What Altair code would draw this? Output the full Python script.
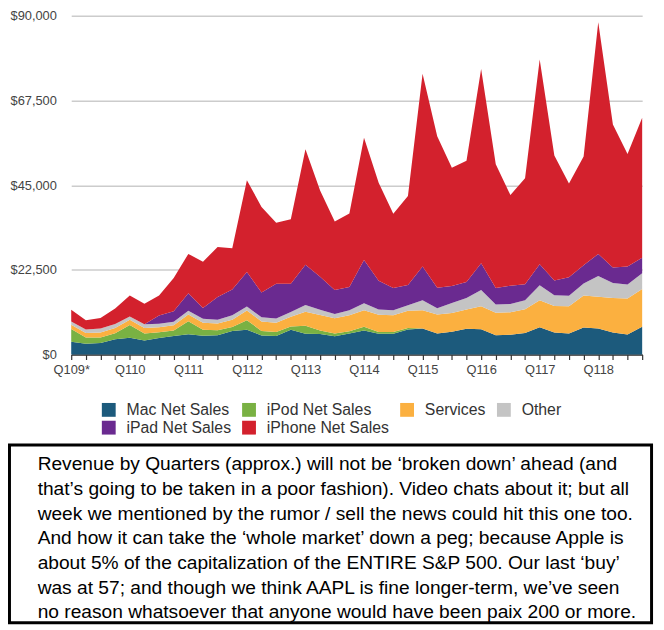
import altair as alt
import pandas as pd

quarters = ["Q109*", "Q209", "Q309", "Q409", "Q110", "Q210", "Q310", "Q410",
            "Q111", "Q211", "Q311", "Q411", "Q112", "Q212", "Q312", "Q412",
            "Q113", "Q213", "Q313", "Q413", "Q114", "Q214", "Q314", "Q414",
            "Q115", "Q215", "Q315", "Q415", "Q116", "Q216", "Q316", "Q416",
            "Q117", "Q217", "Q317", "Q417", "Q118", "Q218", "Q318", "Q418"]

series_names = ["Mac Net Sales", "iPod Net Sales", "Services", "Other",
                "iPad Net Sales", "iPhone Net Sales"]
colors = ["#1c5a7c", "#79b143", "#fbb040", "#c4c4c4", "#6a2a90", "#d3212d"]

mac = [3390, 2850, 3050, 4080, 4456, 3760, 4399, 4919, 5428, 4976, 5105, 6274,
       6598, 5073, 4933, 6619, 5519, 5447, 4893, 5624, 6395, 5519, 5540, 6625,
       6944, 5615, 6030, 6882, 6746, 5107, 5239, 5739, 7244, 5844, 5592, 7170,
       6895, 5848, 5330, 7411]
ipod = [3371, 1663, 1492, 1565, 3391, 1861, 1545, 1477, 3425, 1600, 1325, 1052,
        2528, 1207, 1060, 820, 2143, 962, 733, 573, 973, 461, 442, 410,
        0, 0, 0, 0, 0, 0, 0, 0, 0, 0, 0, 0, 0, 0, 0, 0]
services = [1150, 1200, 1350, 1400, 1400, 1450, 1300, 1400, 1800, 1900, 1800, 1950,
            2600, 2500, 2450, 2600, 3687, 4114, 3990, 4260, 4397, 4573, 4485, 4608,
            4799, 4996, 5028, 5086, 6056, 5991, 5976, 6325, 7172, 7041, 7266, 8501,
            8471, 9190, 9548, 9981]
other = [870, 950, 1042, 1062, 858, 983, 956, 933, 1012, 1057, 984, 1146,
         1037, 1126, 1164, 1292, 1829, 1379, 1179, 1319, 1863, 1419, 1325, 1486,
         2689, 1689, 2641, 3048, 4351, 2189, 2219, 2373, 4024, 2873, 2735, 3231,
         5489, 3954, 3740, 4234]
ipad = [0, 0, 0, 0, 0, 0, 2166, 2792, 4608, 2836, 6046, 6868,
        9153, 6590, 9171, 7510, 10674, 8746, 6374, 6186, 11468, 7610, 5889, 5316,
        8985, 5428, 4538, 4276, 7084, 4413, 4876, 4255, 5533, 3889, 4969, 4831,
        5862, 4113, 4741, 4089]
iphone = [3099, 2421, 2800, 4100, 5578, 5445, 5334, 8822, 10468, 12298, 13311, 10980,
          24417, 22690, 16245, 17125, 30660, 22955, 18154, 19510, 32498, 26064, 19751, 23678,
          51182, 40282, 31368, 32209, 51635, 32857, 24048, 28160, 54378, 33249, 24846, 28846,
          61576, 38032, 29906, 37185]

y_ticks = [0, 22500, 45000, 67500, 90000]

note_lines = [
    "Revenue by Quarters (approx.) will not be \u2018broken down\u2019 ahead (and",
    "that\u2019s going to be taken in a poor fashion). Video chats about it; but all",
    "week we mentioned by the rumor / sell the news could hit this one too.",
    "And how it can take the \u2018whole market\u2019 down a peg; because Apple is",
    "about 5% of the capitalization of the ENTIRE S&P 500. Our last \u2018buy\u2019",
    "was at 57; and though we think AAPL is fine longer-term, we\u2019ve seen",
    "no reason whatsoever that anyone would have been paix 200 or more.",
]

rows = []
for k, (name, vals) in enumerate(zip(series_names, [mac, ipod, services, other, ipad, iphone])):
    for q, v in zip(quarters, vals):
        rows.append({"quarter": q, "series": name, "k": k, "value": v})
df = pd.DataFrame(rows)

FONT = "Liberation Sans"

area = alt.Chart(df).mark_area(opacity=1, interpolate="linear").encode(
    x=alt.X("quarter:O", sort=quarters,
            scale=alt.Scale(type="point", padding=0),
            axis=alt.Axis(title=None, labelAngle=0, labelOverlap=False,
                          labelExpr="substring(datum.label,0,2)=='Q1' ? datum.label : ''",
                          ticks=True, tickSize=5, domain=True, grid=False,
                          labelPadding=4)),
    y=alt.Y("value:Q", stack="zero",
            scale=alt.Scale(domain=[0, 90000], nice=False),
            axis=alt.Axis(title=None, values=y_ticks, format="$,.0f",
                          domain=False, ticks=False, grid=True, labelPadding=15)),
    color=alt.Color("series:N", sort=series_names,
                    scale=alt.Scale(domain=series_names, range=colors),
                    legend=alt.Legend(title=None, orient="none", legendX=30, legendY=391,
                                      direction="horizontal", values=series_names,
                                      columns=4, symbolType="square", symbolSize=196,
                                      symbolStrokeWidth=0, symbolOpacity=1,
                                      labelFontSize=16, labelFont=FONT, labelColor="#333",
                                      labelOffset=10, columnPadding=10, rowPadding=2,
                                      padding=0, labelLimit=300)),
    order=alt.Order("k:Q", sort="ascending"),
)

box = alt.Chart(pd.DataFrame({"a": [0]})).mark_rect(
    fill="white", stroke="black", strokeWidth=3
).encode(x=alt.value(-62.5), x2=alt.value(587.5), y=alt.value(434.5), y2=alt.value(614.5))

note = alt.Chart(pd.DataFrame({"t": ["\n".join(note_lines)]})).mark_text(
    align="left", baseline="top", lineBreak="\n", lineHeight=25,
    fontSize=19.4, font=FONT, color="black"
).encode(x=alt.value(-34), y=alt.value(445), text="t:N")

chart = alt.layer(area, box, note).properties(
    width=578, height=343,
    padding={"left": 64, "top": 4, "right": 14, "bottom": 275},
    autosize=alt.AutoSizeParams(type="none"),
).configure_view(stroke=None).configure_axis(
    labelFont=FONT, labelFontSize=13, labelColor="#444",
    gridColor="#cccccc", gridWidth=1.5,
    domainColor="#333", domainWidth=1.5, tickColor="#333", tickWidth=1.2,
)

chart.save("out.html", embed_options={"renderer": "svg", "actions": False})
